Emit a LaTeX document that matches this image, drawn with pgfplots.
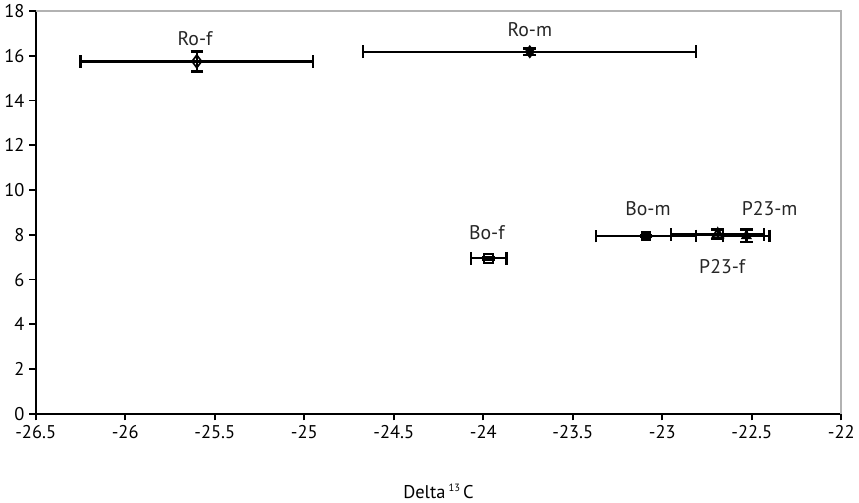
\documentclass[border=0pt]{standalone}
\usepackage{fontspec}
\setmainfont{PT Sans}
\usepackage{pgfplots}
\pgfplotsset{compat=1.18}

\begin{document}
\begin{tikzpicture}
\begin{axis}[
    scale only axis,
    width=612pt, height=306pt,
    xmin=-26.5, xmax=-22,
    ymin=0, ymax=18,
    xtick={-26.5,-26,...,-22},
    ytick={0,2,...,18},
    axis lines=left,
    axis line style={-, line width=1.6pt, black},
    tick align=outside,
    tick style={black, line width=1.4pt},
    major tick length=5pt,
    ticklabel style={font=\fontsize{14}{15}\selectfont},
    /pgf/number format/assume math mode=true,
    /pgf/number format/.cd, fixed, precision=1, 1000 sep={},
    /pgfplots/.cd,
    xlabel={Delta\,\raisebox{0.7ex}{\fontsize{8}{8}\selectfont 13}\,C},
    xlabel style={font=\fontsize{14}{15}\selectfont, yshift=-28pt},
    clip=false,
    error bars/error bar style={line width=1.8pt, black},
    error bars/error mark options={rotate=90, line width=1.8pt, mark size=4.8pt, black},
]

% Ro-f
\addplot [only marks, mark=diamond, mark size=4.8pt, mark options={line width=1.3pt, fill=white, draw=black},
    error bars/.cd, x dir=both, x explicit, y dir=both, y explicit]
    coordinates { (-25.60, 15.75) +- (0.65, 0.45) };
% Ro-m
\addplot [only marks, mark=diamond*, mark size=4.8pt, mark options={fill=black, draw=black},
    error bars/.cd, x dir=both, x explicit, y dir=both, y explicit]
    coordinates { (-23.74, 16.18) +- (0.93, 0.15) };
% Bo-f
\addplot [only marks, mark=square, mark size=3.4pt, mark options={line width=1.3pt, fill=white, draw=black},
    error bars/.cd, x dir=both, x explicit, y dir=both, y explicit]
    coordinates { (-23.97, 6.95) +- (0.10, 0.05) };
% Bo-m
\addplot [only marks, mark=square*, mark size=3.4pt, mark options={fill=black, draw=black},
    error bars/.cd, x dir=both, x explicit, y dir=both, y explicit]
    coordinates { (-23.09, 7.95) +- (0.28, 0.05) };
% P23-f
\addplot [only marks, mark=triangle, mark size=4.5pt, mark options={line width=1.5pt, fill=white, draw=black},
    error bars/.cd, x dir=both, x explicit, y dir=both, y explicit]
    coordinates { (-22.69, 8.02) +- (0.26, 0.22) };
% P23-m
\addplot [only marks, mark=triangle*, mark size=4.5pt, mark options={fill=black, draw=black},
    error bars/.cd, x dir=both, x explicit, y dir=both, y explicit]
    coordinates { (-22.53, 7.95) +- (0.13, 0.28) };

\draw [gray!60, line width=1.4pt] (rel axis cs:0,1) -- (rel axis cs:1,1) -- (rel axis cs:1,0);

\begin{scope}[every node/.style={font=\fontsize{15}{16}\selectfont, text=black!85}]
\node at (axis cs:-25.61,16.76) {Ro-f};
\node at (axis cs:-23.74,17.16) {Ro-m};
\node at (axis cs:-23.98,8.12) {Bo-f};
\node at (axis cs:-23.08,9.17) {Bo-m};
\node at (axis cs:-22.40,9.17) {P23-m};
\node at (axis cs:-22.665,6.57) {P23-f};
\end{scope}

\end{axis}
\end{tikzpicture}
\end{document}
